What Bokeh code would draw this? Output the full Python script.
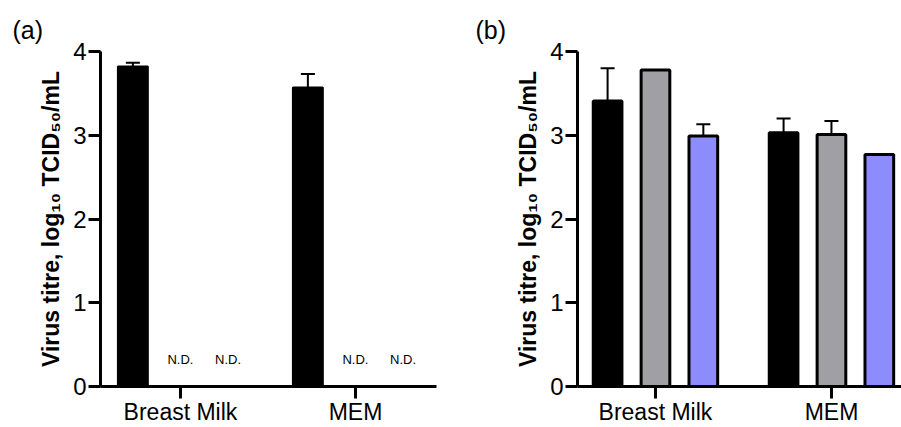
from bokeh.plotting import figure
from bokeh.models import Range1d, FixedTicker, Whisker, ColumnDataSource, TeeHead
from bokeh.layouts import row
from bokeh.embed import file_html
from bokeh.resources import INLINE
from bokeh.core.properties import value

# ---------------- data ----------------
categories = ["Breast Milk", "MEM"]
y_ticks = [0, 1, 2, 3, 4]
y_label = "Virus titre, log\u2081\u2080 TCID\u2085\u2080/mL"

# panel (a): only the first series was detected, the other two are N.D.
a_black = [3.82, 3.57]
a_black_err = [0.045, 0.16]
nd_text = "N.D."

# panel (b)
b_black = [3.41, 3.03]
b_black_err = [0.39, 0.17]
b_gray = [3.78, 3.01]
b_gray_err = [0.0, 0.16]
b_blue = [2.99, 2.77]
b_blue_err = [0.14, 0.0]

# ---------------- style ----------------
FONT = "Liberation Sans"
BAR_OFF = 0.272
ND_Y = 0.32


def base_fig(label, width, left, right, x0, x1, title_offset):
    p = figure(width=width, height=427, output_backend="svg", toolbar_location=None,
               x_range=Range1d(x0, x1), y_range=Range1d(0, 4),
               min_border_left=left, min_border_right=right,
               min_border_top=51, min_border_bottom=40)
    p.xgrid.visible = False
    p.ygrid.visible = False
    p.outline_line_color = None
    p.title.text = label
    p.title.text_font = FONT
    p.title.text_font_size = "25px"
    p.title.text_font_style = "normal"
    p.title.text_color = "black"
    p.title.align = "left"
    p.title.vertical_align = "top"
    p.title.offset = title_offset
    p.title.standoff = 11
    for ax in (p.xaxis[0], p.yaxis[0]):
        ax.axis_line_width = 3
        ax.major_tick_line_width = 3
        ax.major_tick_out = 12
        ax.major_tick_in = 0
        ax.minor_tick_out = 0
        ax.minor_tick_in = 0
        ax.major_label_text_font = FONT
        ax.major_label_text_color = "black"
        ax.axis_line_color = "black"
        ax.major_tick_line_color = "black"
    p.yaxis.major_label_text_font_size = "24px"
    p.xaxis.major_label_text_font_size = "23px"
    p.yaxis.ticker = FixedTicker(ticks=y_ticks)
    p.yaxis.major_label_standoff = 2
    p.yaxis.axis_label = y_label
    p.yaxis.axis_label_text_font = FONT
    p.yaxis.axis_label_text_font_size = "23px"
    p.yaxis.axis_label_text_font_style = "bold"
    p.yaxis.axis_label_text_color = "black"
    p.yaxis.axis_label_standoff = 6
    idx = list(range(len(categories)))
    p.xaxis.ticker = FixedTicker(ticks=idx)
    p.xaxis.major_label_overrides = {i: c for i, c in zip(idx, categories)}
    p.xaxis.major_label_standoff = 0
    return p


def add_series(p, vals, errs, offset, fill, width, lw):
    xs = [i + offset for i in range(len(vals))]
    p.vbar(x=xs, top=vals, bottom=0, width=width, fill_color=fill,
           line_color="black", line_width=lw)
    ex = [x for x, e in zip(xs, errs) if e > 0]
    lo = [v for v, e in zip(vals, errs) if e > 0]
    up = [v + e for v, e in zip(vals, errs) if e > 0]
    if ex:
        src = ColumnDataSource(dict(x=ex, lower=lo, upper=up))
        w = Whisker(source=src, base="x", lower="lower", upper="upper", dimension="height",
                    lower_head=None,
                    upper_head=TeeHead(size=14, line_width=2, line_color="black"),
                    line_width=2, line_color="black")
        p.add_layout(w)


# ---------------- panel (a) ----------------
pa = base_fig("(a)", 450, 100, 14, -0.457, 1.463, -88)
add_series(pa, a_black, a_black_err, -BAR_OFF, "black", 0.171, 2)
nd_x = [i + off for i in range(len(categories)) for off in (0.0, BAR_OFF)]
pa.text(x=nd_x, y=[ND_Y] * len(nd_x), text=[nd_text] * len(nd_x),
        text_align="center", text_baseline="middle",
        text_font=value(FONT), text_font_size="13px", text_color="black")

# ---------------- panel (b) ----------------
pb = base_fig("(b)", 451, 127, 0, -0.443, 1.398, -102)
add_series(pb, b_black, b_black_err, -BAR_OFF, "black", 0.163, 3)
add_series(pb, b_gray, b_gray_err, 0.0, "#a0a0a4", 0.163, 3)
add_series(pb, b_blue, b_blue_err, BAR_OFF, "#8c8cfc", 0.163, 3)

layout = row(pa, pb)
open("out.html", "w").write(file_html(layout, INLINE))
